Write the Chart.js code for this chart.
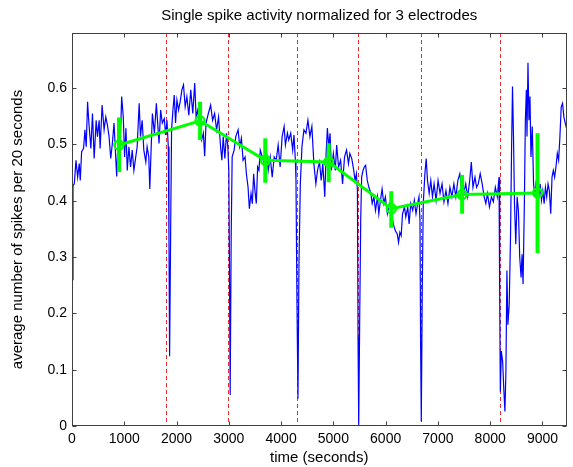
<!DOCTYPE html>
<html>
<head>
<meta charset="utf-8">
<script src="https://cdn.jsdelivr.net/npm/chart.js@4/dist/chart.umd.min.js"></script>
<style>
  html, body { margin: 0; padding: 0; background: #fff; }
  #wrap { width: 573px; height: 467px; }
</style>
</head>
<body>
<div id="wrap"><canvas id="chart" width="573" height="467"></canvas></div>
<script>
// blue trace: normalized spike count per 20 s bin
const timeSec = [
  0, 19, 44, 76, 108, 139, 158, 184, 222, 247,
  272, 298, 323, 361, 392, 424, 462, 487, 519, 538,
  576, 614, 646, 677, 709, 741, 772, 804, 836, 855,
  880, 918, 950, 981, 1006, 1032, 1057, 1089, 1120, 1152,
  1184, 1215, 1247, 1285, 1310, 1342, 1374, 1412, 1437, 1469,
  1488, 1513, 1538, 1576, 1614, 1639, 1665, 1696, 1728, 1766,
  1791, 1817, 1842, 1855, 1867, 1886, 1905, 1931, 1956, 1981,
  2007, 2038, 2070, 2102, 2133, 2165, 2197, 2235, 2272, 2310,
  2348, 2374, 2405, 2437, 2481, 2513, 2538, 2564, 2608, 2652,
  2690, 2728, 2766, 2804, 2842, 2867, 2893, 2924, 2956, 2981,
  3000, 3013, 3026, 3045, 3064, 3102, 3133, 3178, 3209, 3241,
  3273, 3311, 3336, 3368, 3393, 3425, 3450, 3475, 3500, 3526,
  3551, 3576, 3602, 3640, 3678, 3716, 3754, 3792, 3830, 3868,
  3906, 3944, 3982, 4020, 4058, 4083, 4121, 4146, 4184, 4222,
  4247, 4273, 4285, 4304, 4323, 4342, 4368, 4399, 4437, 4475,
  4513, 4551, 4589, 4627, 4665, 4697, 4735, 4767, 4798, 4836,
  4861, 4886, 4911, 4937, 4962, 5000, 5037, 5063, 5100, 5138,
  5176, 5214, 5252, 5289, 5315, 5352, 5390, 5415, 5441, 5460,
  5472, 5485, 5504, 5523, 5541, 5567, 5592, 5617, 5649, 5680,
  5718, 5743, 5775, 5806, 5844, 5869, 5901, 5932, 5964, 5995,
  6033, 6071, 6108, 6146, 6184, 6222, 6247, 6272, 6297, 6323,
  6360, 6386, 6423, 6449, 6480, 6518, 6549, 6581, 6612, 6638,
  6657, 6669, 6682, 6701, 6720, 6751, 6776, 6801, 6833, 6864,
  6896, 6927, 6965, 7003, 7041, 7079, 7116, 7154, 7192, 7230,
  7268, 7305, 7343, 7381, 7419, 7457, 7494, 7532, 7570, 7608,
  7639, 7671, 7709, 7740, 7772, 7809, 7847, 7885, 7917, 7948,
  7986, 8024, 8061, 8099, 8137, 8169, 8181, 8194, 8213, 8238,
  8263, 8282, 8301, 8320, 8339, 8364, 8389, 8408, 8427, 8446,
  8465, 8490, 8515, 8540, 8565, 8591, 8610, 8629, 8654, 8673,
  8692, 8704, 8723, 8742, 8761, 8780, 8805, 8830, 8855, 8880,
  8906, 8931, 8956, 8981, 9006, 9032, 9057, 9082, 9107, 9132,
  9158, 9183, 9208, 9233, 9258, 9284, 9309, 9334, 9359, 9384,
  9410, 9435, 9460
];
const spikeRate = [
  0.26, 0.427, 0.43, 0.472, 0.442, 0.466, 0.436, 0.487, 0.493, 0.526,
  0.496, 0.576, 0.538, 0.493, 0.555, 0.475, 0.543, 0.514, 0.543, 0.493,
  0.570, 0.526, 0.549, 0.535, 0.514, 0.475, 0.502, 0.538, 0.478, 0.443,
  0.508, 0.484, 0.585, 0.549, 0.478, 0.529, 0.454, 0.496, 0.46, 0.49,
  0.454, 0.475, 0.496, 0.573, 0.514, 0.543, 0.49, 0.469, 0.496, 0.478,
  0.421, 0.49, 0.555, 0.52, 0.573, 0.538, 0.502, 0.561, 0.538, 0.546,
  0.517, 0.543, 0.496, 0.335, 0.124, 0.335, 0.526, 0.561, 0.588, 0.538,
  0.579, 0.561, 0.576, 0.597, 0.606, 0.567, 0.585, 0.552, 0.597, 0.555,
  0.609, 0.549, 0.561, 0.535, 0.508, 0.52, 0.479, 0.538, 0.555, 0.570,
  0.543, 0.555, 0.526, 0.549, 0.496, 0.472, 0.514, 0.475, 0.52, 0.496,
  0.454, 0.276, 0.055, 0.335, 0.478, 0.49, 0.514, 0.526, 0.496, 0.511,
  0.472, 0.478, 0.448, 0.424, 0.386, 0.413, 0.395, 0.448, 0.418, 0.395,
  0.46, 0.454, 0.49, 0.478, 0.466, 0.49, 0.454, 0.478, 0.442, 0.478,
  0.472, 0.499, 0.46, 0.514, 0.532, 0.499, 0.52, 0.508, 0.52, 0.49,
  0.517, 0.472, 0.436, 0.217, 0.049, 0.288, 0.43, 0.496, 0.526, 0.52,
  0.543, 0.514, 0.532, 0.466, 0.43, 0.454, 0.469, 0.436, 0.466, 0.407,
  0.484, 0.529, 0.496, 0.52, 0.454, 0.484, 0.454, 0.499, 0.46, 0.472,
  0.43, 0.478, 0.49, 0.466, 0.484, 0.475, 0.454, 0.436, 0.448, 0.418,
  0.157, 0.002, 0.192, 0.365, 0.442, 0.454, 0.46, 0.463, 0.436, 0.424,
  0.413, 0.395, 0.407, 0.383, 0.407, 0.377, 0.401, 0.421, 0.395, 0.407,
  0.377, 0.395, 0.383, 0.359, 0.347, 0.341, 0.326, 0.344, 0.338, 0.377,
  0.389, 0.371, 0.389, 0.359, 0.395, 0.383, 0.401, 0.377, 0.395, 0.407,
  0.365, 0.145, 0.008, 0.246, 0.395, 0.448, 0.475, 0.436, 0.413, 0.436,
  0.407, 0.43, 0.401, 0.436, 0.413, 0.43, 0.398, 0.418, 0.395, 0.424,
  0.407, 0.43, 0.407, 0.436, 0.448, 0.418, 0.413, 0.43, 0.407, 0.436,
  0.469, 0.424, 0.442, 0.424, 0.43, 0.448, 0.43, 0.407, 0.395, 0.413,
  0.389, 0.407, 0.398, 0.424, 0.407, 0.442, 0.246, 0.061, 0.133, 0.115,
  0.061, 0.026, 0.097, 0.276, 0.18, 0.216, 0.335, 0.484, 0.603, 0.514,
  0.395, 0.323, 0.407, 0.383, 0.30, 0.264, 0.305, 0.252, 0.395, 0.543,
  0.597, 0.514, 0.645, 0.543, 0.585, 0.478, 0.532, 0.43, 0.407, 0.436,
  0.413, 0.407, 0.43, 0.401, 0.418, 0.395, 0.424, 0.407, 0.43, 0.418,
  0.377, 0.442, 0.454, 0.442, 0.46, 0.484, 0.472, 0.514, 0.567, 0.573,
  0.549, 0.538, 0.529
];

// green trace: block means with spread
const meanTime = [899, 2450, 3697, 4911, 6108, 7463, 8906];
const meanRate = [0.499, 0.542, 0.472, 0.469, 0.386, 0.411, 0.414];
const errHigh  = [0.548, 0.576, 0.511, 0.502, 0.417, 0.446, 0.52];
const errLow   = [0.451, 0.508, 0.432, 0.433, 0.352, 0.377, 0.307];

// dashed markers
const stimTimes = [1805, 2990, 4300, 5475, 6675, 8190];

const xTickVals = [0, 1000, 2000, 3000, 4000, 5000, 6000, 7000, 8000, 9000];
const yTickVals = [0, 0.1, 0.2, 0.3, 0.4, 0.5, 0.6];

Chart.defaults.font.family = '"Liberation Sans", Arial, sans-serif';
Chart.defaults.font.size = 14;
Chart.defaults.color = '#000';

// MATLAB-like box, inward ticks, stim lines and error bars
const matlabAxes = {
  id: 'matlabAxes',
  beforeDatasetsDraw(chart) {
    const { ctx, chartArea: a, scales: { x, y } } = chart;
    ctx.save();
    ctx.strokeStyle = '#e83030';
    ctx.lineWidth = 1;
    ctx.setLineDash([4, 3]);
    stimTimes.forEach(t => {
      const px = Math.round(x.getPixelForValue(t)) + 0.5;
      ctx.beginPath();
      ctx.moveTo(px, a.top);
      ctx.lineTo(px, a.bottom);
      ctx.stroke();
    });
    ctx.restore();
  },
  afterDatasetsDraw(chart) {
    const { ctx, chartArea: a, scales: { x, y } } = chart;
    ctx.save();
    // error bars (under the circle markers, which are redrawn on top)
    ctx.strokeStyle = '#00ff00';
    ctx.lineWidth = 4;
    meanTime.forEach((t, i) => {
      const px = x.getPixelForValue(t);
      ctx.beginPath();
      ctx.moveTo(px, y.getPixelForValue(errHigh[i]));
      ctx.lineTo(px, y.getPixelForValue(errLow[i]));
      ctx.stroke();
    });
    ctx.lineWidth = 2;
    meanTime.forEach((t, i) => {
      ctx.beginPath();
      ctx.arc(x.getPixelForValue(t), y.getPixelForValue(meanRate[i]), 4.5, 0, Math.PI * 2);
      ctx.stroke();
    });
    // box
    ctx.strokeStyle = '#404040';
    ctx.lineWidth = 1;
    const L = Math.round(a.left) + 0.5, R = Math.round(a.right) - 0.5;
    const T = Math.round(a.top) + 0.5, B = Math.round(a.bottom) - 0.5;
    ctx.strokeRect(L, T, R - L, B - T);
    // inward ticks
    ctx.beginPath();
    xTickVals.forEach(v => {
      const px = Math.round(x.getPixelForValue(v)) + 0.5;
      ctx.moveTo(px, B); ctx.lineTo(px, B - 4);
      ctx.moveTo(px, T); ctx.lineTo(px, T + 4);
    });
    yTickVals.forEach(v => {
      const py = Math.round(y.getPixelForValue(v)) + 0.5;
      ctx.moveTo(L, py); ctx.lineTo(L + 4, py);
      ctx.moveTo(R, py); ctx.lineTo(R - 4, py);
    });
    ctx.stroke();
    ctx.restore();
  }
};

const ctx = document.getElementById('chart').getContext('2d');
new Chart(ctx, {
  type: 'line',
  data: {
    datasets: [
      {
        label: 'spike rate',
        data: timeSec.map((t, i) => ({ x: t, y: spikeRate[i] })),
        borderColor: '#0000ff',
        borderWidth: 1.2,
        pointRadius: 0,
        tension: 0,
        order: 2
      },
      {
        label: 'mean',
        data: meanTime.map((t, i) => ({ x: t, y: meanRate[i] })),
        borderColor: '#00ff00',
        borderWidth: 3,
        pointRadius: 4.5,
        pointBorderWidth: 2,
        pointBackgroundColor: 'rgba(0,0,0,0)',
        pointBorderColor: '#00ff00',
        tension: 0,
        order: 1
      }
    ]
  },
  options: {
    responsive: false,
    animation: false,
    layout: { padding: { left: 0, right: 2, top: 0, bottom: 0 } },
    plugins: {
      legend: { display: false },
      tooltip: { enabled: false },
      title: {
        display: true,
        text: 'Single spike activity normalized for 3 electrodes',
        font: { size: 15, weight: 'normal' },
        color: '#000',
        padding: { top: 7, bottom: 8 },
        fullSize: false
      }
    },
    scales: {
      x: {
        type: 'linear',
        min: 0,
        max: 9460,
        grid: { display: false, drawTicks: false },
        border: { display: false },
        afterBuildTicks: s => { s.ticks = xTickVals.map(v => ({ value: v })); },
        afterFit: s => { s.height = 41; },
        ticks: { padding: 5, maxRotation: 0, callback: v => String(v) },
        title: { display: true, text: 'time (seconds)', font: { size: 15 }, padding: { top: 0, bottom: 0 } }
      },
      y: {
        min: 0,
        max: 0.698,
        grid: { display: false, drawTicks: false },
        border: { display: false },
        afterBuildTicks: s => { s.ticks = yTickVals.map(v => ({ value: v })); },
        afterFit: s => { s.width = 72; },
        ticks: { padding: 5, callback: v => String(v) },
        title: { display: true, text: 'average number of spikes per 20 seconds', font: { size: 15 }, padding: { top: 9, bottom: 0 } }
      }
    }
  },
  plugins: [matlabAxes]
});
</script>
</body>
</html>
